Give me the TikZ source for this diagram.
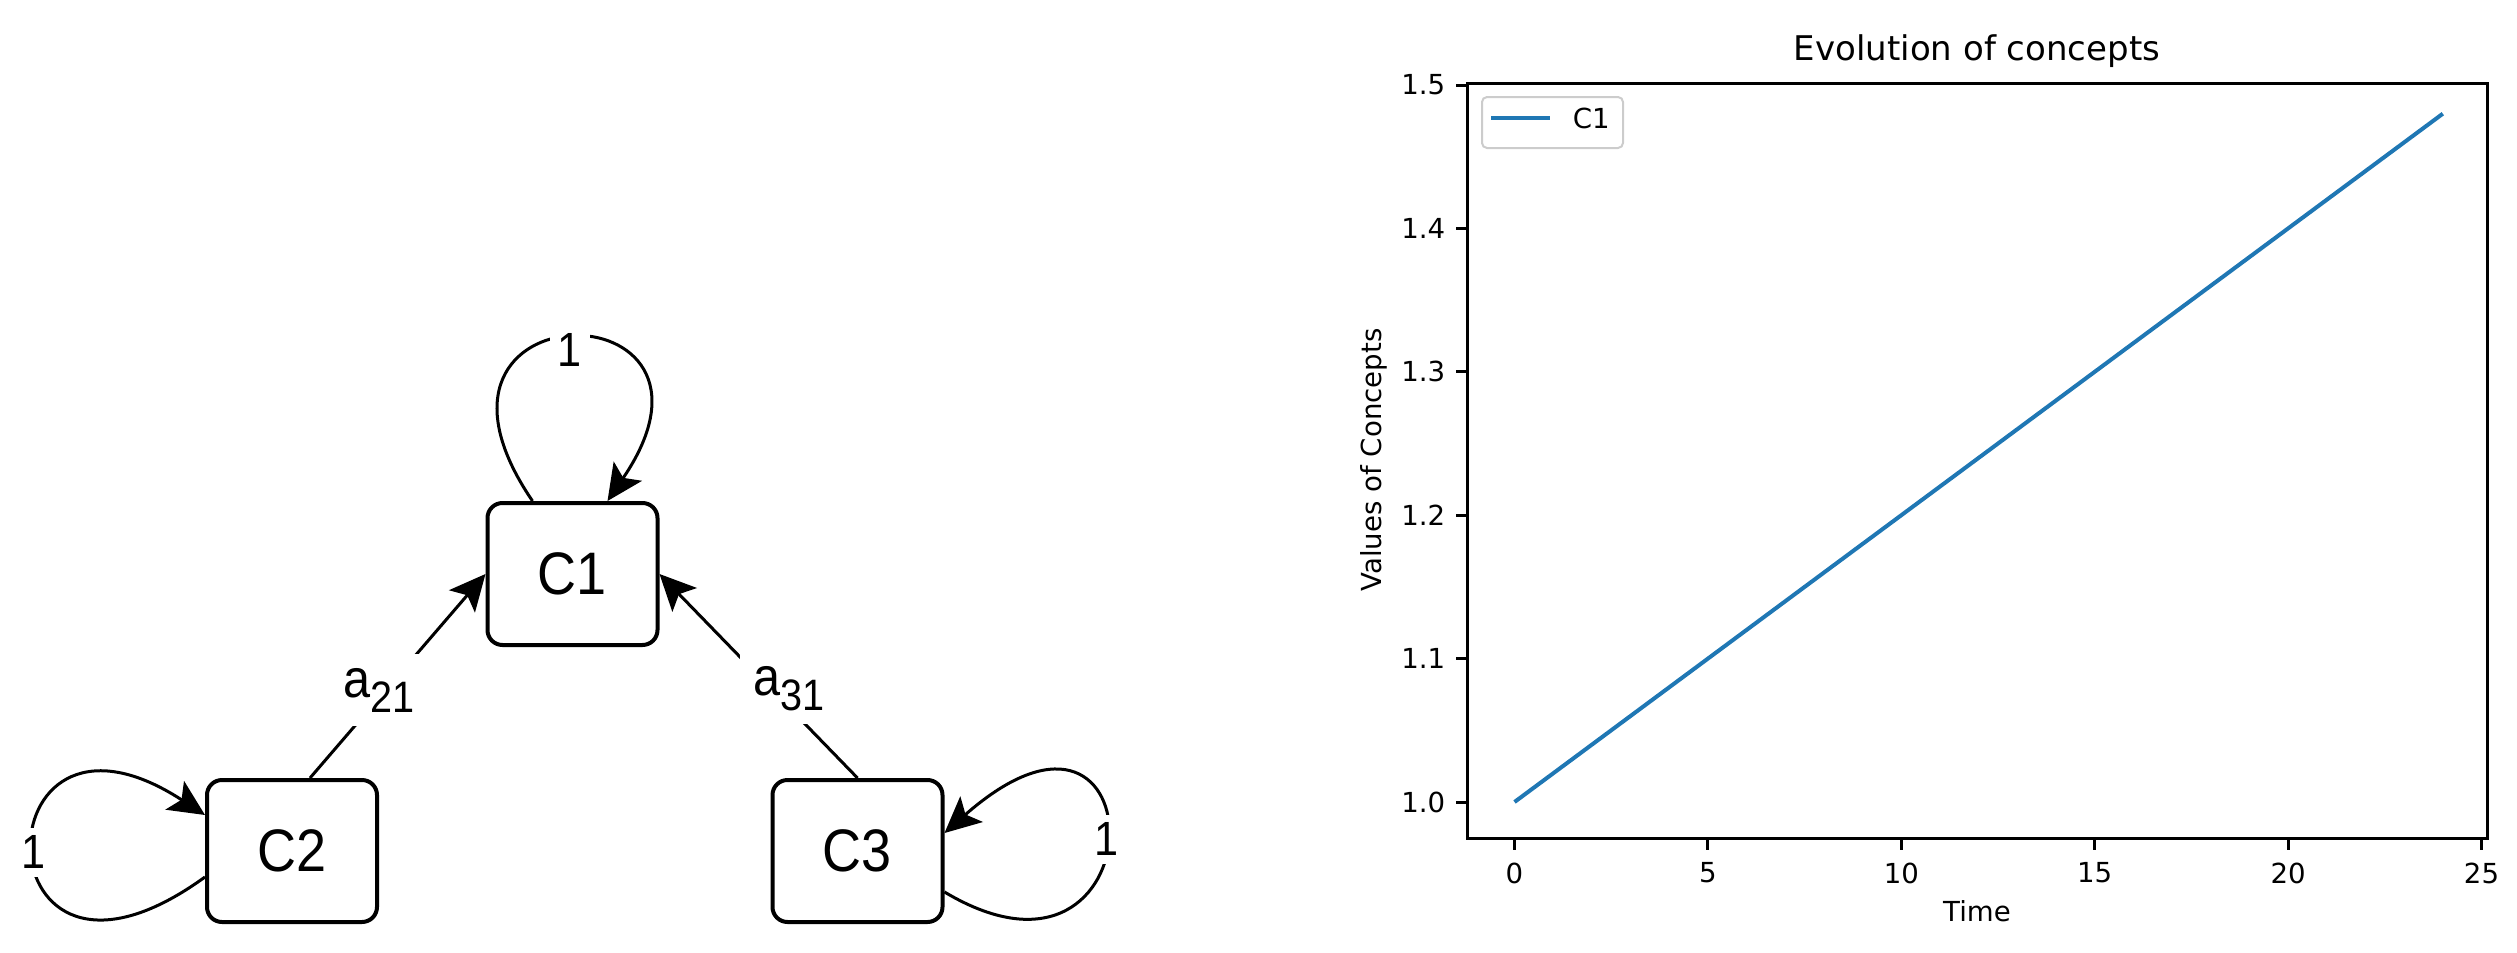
\documentclass[tikz,border=0pt]{standalone}
\usepackage{fontspec}
\setmainfont{DejaVu Sans}
\newfontfamily\gvfont[FakeStretch=0.9]{Liberation Sans}
\usetikzlibrary{arrows.meta,calc}
\definecolor{mplblue}{HTML}{1F77B4}
\begin{document}
\begin{tikzpicture}[x=0.25pt,y=-0.25pt,
  cbox/.style={draw, line width=1pt, fill=white, rounded corners=3.75pt,
    minimum width=42.5pt, minimum height=35.5pt, inner sep=0pt,
    font=\gvfont\fontsize{15}{15}\selectfont},
  edge/.style={draw, line width=0.75pt, -{Stealth[length=9pt,width=8.5pt,inset=2pt]}},
  elbl/.style={fill=white, inner sep=2pt, font=\gvfont\fontsize{12}{12}\selectfont},
  albl/.style={fill=white, inner sep=3.5pt, font=\gvfont\fontsize{13.5}{13.5}\selectfont},
  ticklbl/.style={inner sep=0pt, font=\fontsize{6.9}{6.9}\selectfont},
  axlbl/.style={inner sep=0pt, font=\fontsize{6.9}{6.9}\selectfont},
  spine/.style={line width=0.75pt, line cap=rect}
]
\useasboundingbox (0,0) rectangle (2517,953);

% ---------------- graph ----------------
\node[cbox] (C1) at (572.5,574) {C1};
\node[cbox] (C2) at (292,851) {C2};
\node[cbox] (C3) at (857.5,851) {C3};

\draw[edge] ($(C2.north)+(18,0)$) -- node[albl, pos=0.43, xshift=-1.5pt]
  {a\raisebox{-3.75pt}{\fontsize{11}{11}\selectfont 21}} (C1.west);
\draw[edge] (C3.north) -- node[albl, pos=0.44, xshift=4.75pt]
  {a\raisebox{-3.75pt}{\fontsize{11}{11}\selectfont 31}} (C1.east);

\draw[edge] ($(C1.north)+(-40,0)$) .. controls +(-148,-217) and +(148,-217) ..
  node[elbl, pos=0.5, yshift=-3pt] {1} ($(C1.north)+(35,0)$);
\draw[edge] ($(C2.west)+(0,26)$) .. controls +(-229,166) and +(-229,-149) ..
  node[elbl, pos=0.5] {1} ($(C2.west)+(0,-36)$);
\draw[edge] ($(C3.east)+(0,41)$) .. controls +(216,129) and +(217,-191) ..
  node[elbl, pos=0.5] {1} ($(C3.east)+(0,-18)$);

% ---------------- chart ----------------
\draw[spine] (1467,83) rectangle (2487,838);
\foreach \t in {0,5,10,15,20,25} {
  \pgfmathsetmacro\px{1514.5+38.68*\t}
  \draw[spine] (\px,838) -- (\px,848);
  \node[ticklbl, anchor=north] (xt\t) at (\px,862) {\t};
}
\foreach \v/\lab in {0/1.0,1/1.1,2/1.2,3/1.3,4/1.4,5/1.5} {
  \pgfmathsetmacro\py{802-143.4*\v}
  \draw[spine] (1457,\py) -- (1467,\py);
  \node[ticklbl, anchor=east] (yt\v) at (1446,\py) {\lab};
}
\node[inner sep=0pt, anchor=base, font=\fontsize{8.5}{8.5}\selectfont] (title) at (1977,61) {Evolution of concepts};
\node[axlbl, anchor=base] (xlab) at (1977,921) {Time};
\node[axlbl, rotate=90] (ylab) at (1374,460) {Values of Concepts};

\draw[mplblue, line width=1pt] (1514.5,802) -- (2442.8,113.7);

% legend
\draw[draw=black!20, fill=white, line width=0.5pt, rounded corners=1.25pt] (1482,97) rectangle (1623,148);
\draw[mplblue, line width=1pt] (1491,118) -- (1550,118);
\node[ticklbl, anchor=west] (leg) at (1572,118) {C1};
\end{tikzpicture}
\end{document}
